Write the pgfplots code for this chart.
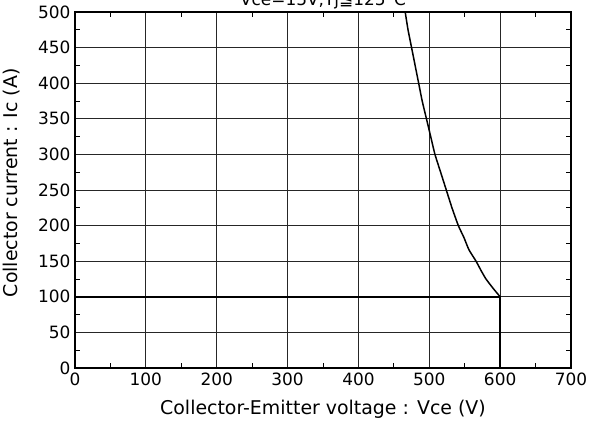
\documentclass[border=0pt]{standalone}
\usepackage{fontspec}
\setmainfont{DejaVu Sans}
\usepackage{pgfplots}
\pgfplotsset{compat=1.18}

\begin{document}
\begin{tikzpicture}
\begin{axis}[
  scale only axis,
  width=496bp, height=356bp,
  at={(0,0)}, anchor=south west,
  xmin=0, xmax=700, ymin=0, ymax=500,
  xtick={0,100,...,700}, ytick={0,50,...,500},
  minor x tick num=1, minor y tick num=1,
  tick align=inside,
  major tick length=0pt, minor tick length=5bp,
  minor tick style={black, line width=0.8pt},
  grid=major,
  major grid style={black!85, line width=1pt},
  axis line style={black, line width=1.3pt},
  /pgf/number format/assume math mode=true,
  ticklabel style={font=\fontsize{17}{20}\selectfont},
  xticklabel style={yshift=-1bp},
  yticklabel style={xshift=-1bp},
  xlabel={Collector-Emitter voltage : Vce (V)},
  ylabel={Collector current : Ic (A)},
  xlabel style={font=\fontsize{19}{22}\selectfont, at={(axis description cs:0.5,-0.115)}, anchor=center},
  ylabel style={font=\fontsize{19}{22}\selectfont, at={(axis description cs:-0.128,0.52)}, anchor=center},
]
\addplot[black, line width=1.5pt, smooth, tension=0.3] coordinates {
  (600,100) (590,112) (580,125) (573,137) (566,150) (556,166) (549,183)
  (541,200) (532,225) (524,250) (516,275) (508,300) (502,325) (496,350)
  (490,375) (485,400) (480,425) (475,450) (470,475) (466,500)
};
\addplot[black, line width=1.5pt] coordinates {
  (0,100) (600,100) (600,0)
};
\end{axis}
\node[anchor=base, font=\fontsize{17}{20}\selectfont] at (248bp,362bp) {Vce=15V,Tj≦125°C};
\pgfresetboundingbox
\useasboundingbox (-75bp,-55bp) rectangle (523bp,368bp);
\end{tikzpicture}
\end{document}
